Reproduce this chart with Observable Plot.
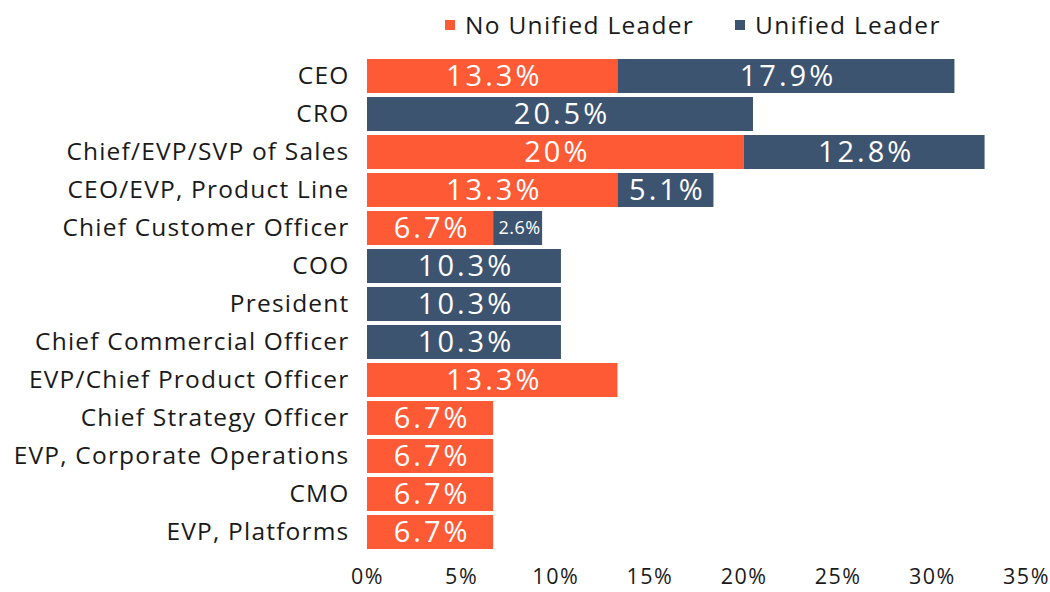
<!DOCTYPE html>
<html>
<head>
<meta charset="utf-8">
<script src="https://cdn.jsdelivr.net/npm/d3@7"></script>
<script src="https://cdn.jsdelivr.net/npm/@observablehq/plot@0.6"></script>
<style>
  html, body { margin: 0; padding: 0; background: #fff; }
  body { width: 1050px; height: 592px; overflow: hidden; font-family: "Open Sans", Lato, sans-serif; }
  #legend { height: 50px; position: relative; font-size: 24.5px; letter-spacing: 1.3px; color: #1a1a1a; }
  .item { position: absolute; top: 8px; display: flex; align-items: center; }
  .sw { width: 10px; height: 10px; margin-right: 10px; }
</style>
</head>
<body>
<div id="legend"></div>
<div id="chart"></div>
<script>
const roles = ["CEO", "CRO", "Chief/EVP/SVP of Sales", "CEO/EVP, Product Line", "Chief Customer Officer", "COO", "President", "Chief Commercial Officer", "EVP/Chief Product Officer", "Chief Strategy Officer", "EVP, Corporate Operations", "CMO", "EVP, Platforms"];
const noUnified = [13.3, 0, 20, 13.3, 6.7, 0, 0, 0, 13.3, 6.7, 6.7, 6.7, 6.7];
const unified = [17.9, 20.5, 12.8, 5.1, 2.6, 10.3, 10.3, 10.3, 0, 0, 0, 0, 0];
const seriesNames = ["No Unified Leader", "Unified Leader"];
const colors = ["#FF5A36", "#3D5470"];
const xTicks = [0, 5, 10, 15, 20, 25, 30, 35];

const data = [];
roles.forEach((r, i) => {
  data.push({role: r, series: seriesNames[0], value: noUnified[i]});
  data.push({role: r, series: seriesNames[1], value: unified[i]});
});

// legend
const legend = document.getElementById("legend");
const legendPos = [445, 735];
seriesNames.forEach((s, i) => {
  const it = document.createElement("div");
  it.className = "item";
  it.style.left = legendPos[i] + "px";
  it.innerHTML = `<span class="sw" style="background:${colors[i]}"></span><span>${s}</span>`;
  legend.appendChild(it);
});

const chart = Plot.plot({
  width: 1050,
  height: 542,
  marginLeft: 367,
  marginRight: 24,
  marginTop: 1,
  marginBottom: 34,
  style: {fontFamily: "'Open Sans', Lato, sans-serif", fontSize: "21.5px", color: "#1a1a1a", background: "#fff"},
  x: {domain: [0, 35], ticks: xTicks, tickFormat: d => d + "%", tickSize: 0, tickPadding: 10, label: null},
  y: {domain: roles, padding: 0.1, label: null},
  color: {domain: seriesNames, range: colors},
  marks: [
    Plot.barX(data, {x: "value", y: "role", fill: "series", order: seriesNames}),
    Plot.axisY({tickSize: 0, tickPadding: 18, fontSize: 24.5, label: null}),
    Plot.textX(data, Plot.stackX({
      x: "value", y: "role", z: "series", order: seriesNames,
      filter: d => d.value > 0,
      text: d => d.value + "%",
      fill: "white",
      fontSize: d => d.value < 4 ? 18 : 29,
      fontWeight: d => d.value < 4 ? 600 : 400,
      dx: 1.5
    }))
  ]
});
const svg = d3.select(chart);
svg.selectAll('g[aria-label="y-axis tick label"] text').style("letter-spacing", "1.2px");
svg.selectAll('g[aria-label="x-axis tick label"] text').style("letter-spacing", "1.5px");
svg.selectAll('g[aria-label="text"] text').style("letter-spacing", function() {
  return +this.getAttribute("font-size") < 20 ? "0.5px" : "3px";
});
document.getElementById("chart").appendChild(chart);
</script>
</body>
</html>
